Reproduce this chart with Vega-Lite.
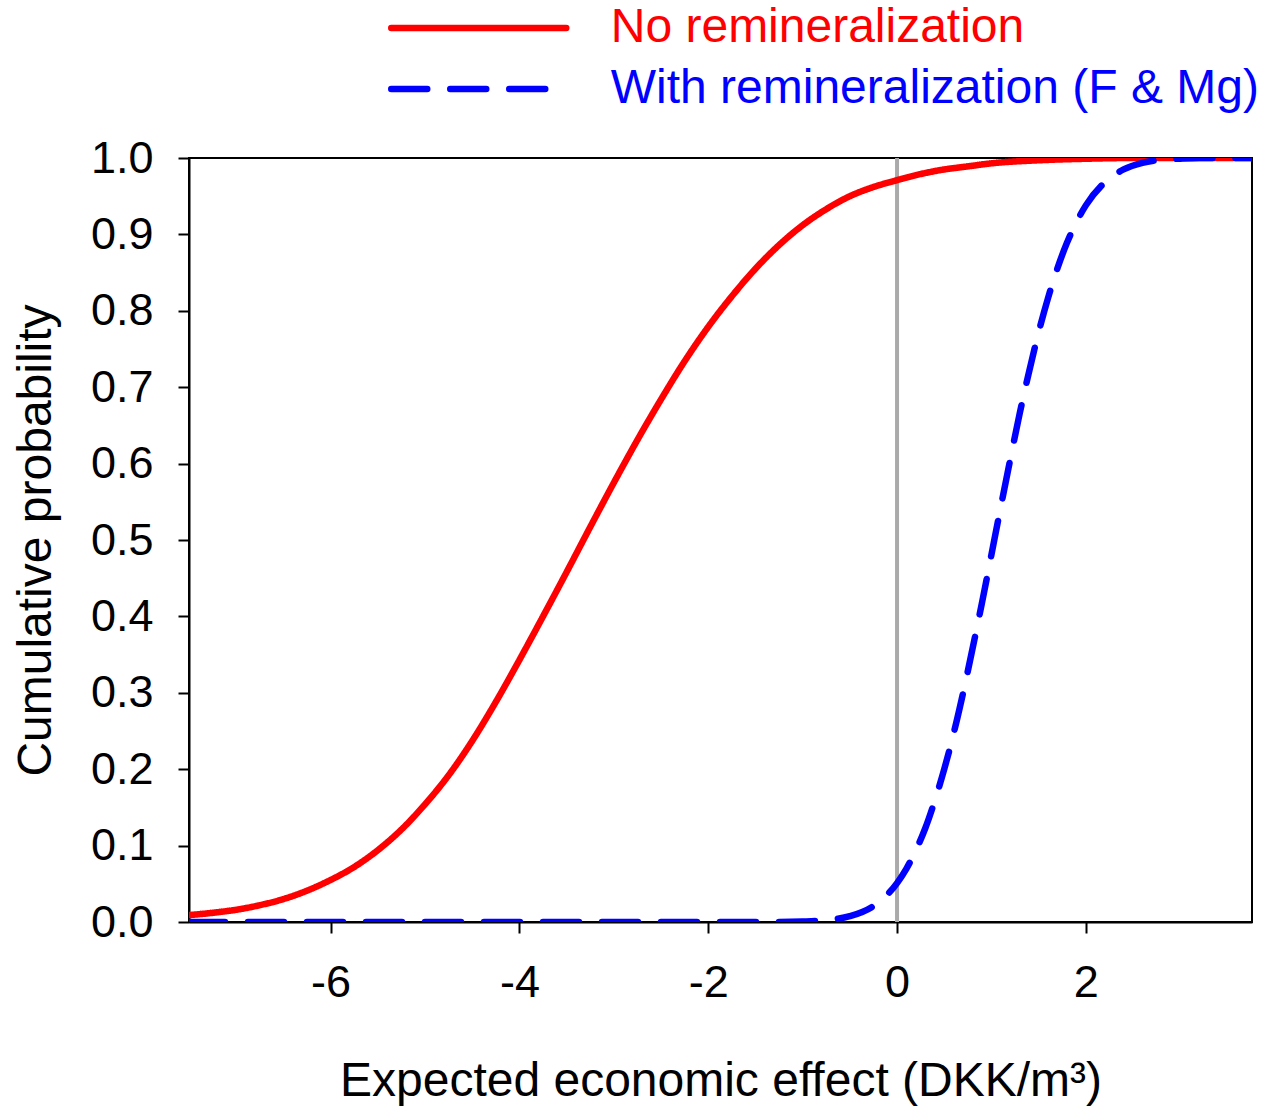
{
  "$schema": "https://vega.github.io/schema/vega-lite/v6.json",
  "width": 1063,
  "height": 764,
  "autosize": {"type": "none"},
  "padding": {"left": 189, "top": 158, "right": 9, "bottom": 190},
  "background": "white",
  "config": {
    "font": "Liberation Sans",
    "view": {"stroke": "black", "strokeWidth": 2},
    "axis": {
      "grid": false,
      "domainColor": "black",
      "domainWidth": 2,
      "tickColor": "black",
      "tickWidth": 2,
      "tickSize": 11,
      "labelFont": "Liberation Sans",
      "labelFontSize": 45,
      "labelColor": "black",
      "titleFont": "Liberation Sans",
      "titleFontSize": 48,
      "titleFontWeight": "normal",
      "titleColor": "black"
    }
  },
  "layer": [
    {
      "data": {"values": [{"x": 0}]},
      "mark": {"type": "rule", "color": "#aaaaaa", "strokeWidth": 4},
      "encoding": {
        "x": {"field": "x", "type": "quantitative", "scale": {"domain": [-7.5, 3.76], "nice": false, "zero": false}}
      }
    },
    {
      "data": {"values": [
        {"x": -7.5, "p": 0.009, "series": "No remineralization"},
        {"x": -7.25, "p": 0.012, "series": "No remineralization"},
        {"x": -7.0, "p": 0.016, "series": "No remineralization"},
        {"x": -6.75, "p": 0.022, "series": "No remineralization"},
        {"x": -6.5, "p": 0.030, "series": "No remineralization"},
        {"x": -6.25, "p": 0.041, "series": "No remineralization"},
        {"x": -6.0, "p": 0.055, "series": "No remineralization"},
        {"x": -5.75, "p": 0.072, "series": "No remineralization"},
        {"x": -5.5, "p": 0.094, "series": "No remineralization"},
        {"x": -5.25, "p": 0.121, "series": "No remineralization"},
        {"x": -5.0, "p": 0.154, "series": "No remineralization"},
        {"x": -4.75, "p": 0.192, "series": "No remineralization"},
        {"x": -4.5, "p": 0.237, "series": "No remineralization"},
        {"x": -4.25, "p": 0.288, "series": "No remineralization"},
        {"x": -4.0, "p": 0.343, "series": "No remineralization"},
        {"x": -3.75, "p": 0.400, "series": "No remineralization"},
        {"x": -3.5, "p": 0.458, "series": "No remineralization"},
        {"x": -3.25, "p": 0.517, "series": "No remineralization"},
        {"x": -3.0, "p": 0.575, "series": "No remineralization"},
        {"x": -2.75, "p": 0.631, "series": "No remineralization"},
        {"x": -2.5, "p": 0.684, "series": "No remineralization"},
        {"x": -2.25, "p": 0.734, "series": "No remineralization"},
        {"x": -2.0, "p": 0.779, "series": "No remineralization"},
        {"x": -1.75, "p": 0.819, "series": "No remineralization"},
        {"x": -1.5, "p": 0.855, "series": "No remineralization"},
        {"x": -1.25, "p": 0.886, "series": "No remineralization"},
        {"x": -1.0, "p": 0.912, "series": "No remineralization"},
        {"x": -0.75, "p": 0.933, "series": "No remineralization"},
        {"x": -0.5, "p": 0.950, "series": "No remineralization"},
        {"x": -0.25, "p": 0.962, "series": "No remineralization"},
        {"x": 0.0, "p": 0.971, "series": "No remineralization"},
        {"x": 0.25, "p": 0.979, "series": "No remineralization"},
        {"x": 0.5, "p": 0.985, "series": "No remineralization"},
        {"x": 0.75, "p": 0.989, "series": "No remineralization"},
        {"x": 1.0, "p": 0.993, "series": "No remineralization"},
        {"x": 1.5, "p": 0.997, "series": "No remineralization"},
        {"x": 2.0, "p": 0.999, "series": "No remineralization"},
        {"x": 2.5, "p": 1.0, "series": "No remineralization"},
        {"x": 3.0, "p": 1.0, "series": "No remineralization"},
        {"x": 3.76, "p": 1.0, "series": "No remineralization"},
        {"x": -7.5, "p": 0.0, "series": "With remineralization (F & Mg)"},
        {"x": -5.0, "p": 0.0, "series": "With remineralization (F & Mg)"},
        {"x": -2.5, "p": 0.0, "series": "With remineralization (F & Mg)"},
        {"x": -1.25, "p": 0.0, "series": "With remineralization (F & Mg)"},
        {"x": -1.0, "p": 0.0006, "series": "With remineralization (F & Mg)"},
        {"x": -0.75, "p": 0.0024, "series": "With remineralization (F & Mg)"},
        {"x": -0.5, "p": 0.0076, "series": "With remineralization (F & Mg)"},
        {"x": -0.25, "p": 0.021, "series": "With remineralization (F & Mg)"},
        {"x": 0.0, "p": 0.051, "series": "With remineralization (F & Mg)"},
        {"x": 0.1, "p": 0.070, "series": "With remineralization (F & Mg)"},
        {"x": 0.2, "p": 0.094, "series": "With remineralization (F & Mg)"},
        {"x": 0.3, "p": 0.123, "series": "With remineralization (F & Mg)"},
        {"x": 0.4, "p": 0.159, "series": "With remineralization (F & Mg)"},
        {"x": 0.5, "p": 0.200, "series": "With remineralization (F & Mg)"},
        {"x": 0.6, "p": 0.247, "series": "With remineralization (F & Mg)"},
        {"x": 0.7, "p": 0.300, "series": "With remineralization (F & Mg)"},
        {"x": 0.8, "p": 0.358, "series": "With remineralization (F & Mg)"},
        {"x": 0.9, "p": 0.418, "series": "With remineralization (F & Mg)"},
        {"x": 1.0, "p": 0.481, "series": "With remineralization (F & Mg)"},
        {"x": 1.1, "p": 0.544, "series": "With remineralization (F & Mg)"},
        {"x": 1.2, "p": 0.606, "series": "With remineralization (F & Mg)"},
        {"x": 1.3, "p": 0.666, "series": "With remineralization (F & Mg)"},
        {"x": 1.4, "p": 0.721, "series": "With remineralization (F & Mg)"},
        {"x": 1.5, "p": 0.772, "series": "With remineralization (F & Mg)"},
        {"x": 1.6, "p": 0.817, "series": "With remineralization (F & Mg)"},
        {"x": 1.7, "p": 0.856, "series": "With remineralization (F & Mg)"},
        {"x": 1.8, "p": 0.889, "series": "With remineralization (F & Mg)"},
        {"x": 1.9, "p": 0.916, "series": "With remineralization (F & Mg)"},
        {"x": 2.0, "p": 0.938, "series": "With remineralization (F & Mg)"},
        {"x": 2.2, "p": 0.968, "series": "With remineralization (F & Mg)"},
        {"x": 2.4, "p": 0.985, "series": "With remineralization (F & Mg)"},
        {"x": 2.6, "p": 0.9937, "series": "With remineralization (F & Mg)"},
        {"x": 2.8, "p": 0.9975, "series": "With remineralization (F & Mg)"},
        {"x": 3.0, "p": 0.9991, "series": "With remineralization (F & Mg)"},
        {"x": 3.2, "p": 1.0, "series": "With remineralization (F & Mg)"},
        {"x": 3.76, "p": 1.0, "series": "With remineralization (F & Mg)"}
      ]},
      "mark": {"type": "line", "strokeWidth": 6.5, "strokeCap": "round", "interpolate": "monotone", "clip": true},
      "encoding": {
        "x": {
          "field": "x", "type": "quantitative",
          "scale": {"domain": [-7.5, 3.76], "nice": false, "zero": false},
          "axis": {"values": [-6, -4, -2, 0, 2], "labelExpr": "datum.value < 0 ? '-' + format(-datum.value, 'd') : format(datum.value, 'd')", "labelPadding": 27, "title": "Expected economic effect (DKK/m³)", "titlePadding": 52}
        },
        "y": {
          "field": "p", "type": "quantitative",
          "scale": {"domain": [0, 1], "nice": false},
          "axis": {"values": [0, 0.1, 0.2, 0.3, 0.4, 0.5, 0.6, 0.7, 0.8, 0.9, 1.0], "format": ".1f", "labelPadding": 25, "title": "Cumulative probability", "titlePadding": 30}
        },
        "color": {
          "field": "series", "type": "nominal",
          "scale": {"domain": ["No remineralization", "With remineralization (F & Mg)"], "range": ["#ff0000", "#0000ff"]},
          "legend": {
            "title": null, "orient": "none", "legendX": 198.75, "legendY": -153.5, "direction": "vertical",
            "symbolType": "stroke", "symbolSize": 30625, "symbolStrokeWidth": 6.5,
            "labelFontSize": 48, "labelFont": "Liberation Sans", "labelOffset": 41, "labelLimit": 1000,
            "clipHeight": 47, "rowPadding": 12, "padding": 0,
            "encode": {
              "labels": {"update": {"fill": {"signal": "datum.value == 'No remineralization' ? '#ff0000' : '#0000ff'"}}},
              "symbols": {"update": {"strokeCap": {"value": "round"}}}
            }
          }
        },
        "strokeDash": {
          "field": "series", "type": "nominal",
          "scale": {"domain": ["No remineralization", "With remineralization (F & Mg)"], "range": [[1, 0], [36, 23]]},
          "legend": {
            "title": null, "orient": "none", "legendX": 198.75, "legendY": -153.5, "direction": "vertical",
            "symbolType": "stroke", "symbolSize": 30625, "symbolStrokeWidth": 6.5,
            "labelFontSize": 48, "labelFont": "Liberation Sans", "labelOffset": 41, "labelLimit": 1000,
            "clipHeight": 47, "rowPadding": 12, "padding": 0,
            "encode": {
              "labels": {"update": {"fill": {"signal": "datum.value == 'No remineralization' ? '#ff0000' : '#0000ff'"}}},
              "symbols": {"update": {"strokeCap": {"value": "round"}}}
            }
          }
        }
      }
    }
  ]
}
